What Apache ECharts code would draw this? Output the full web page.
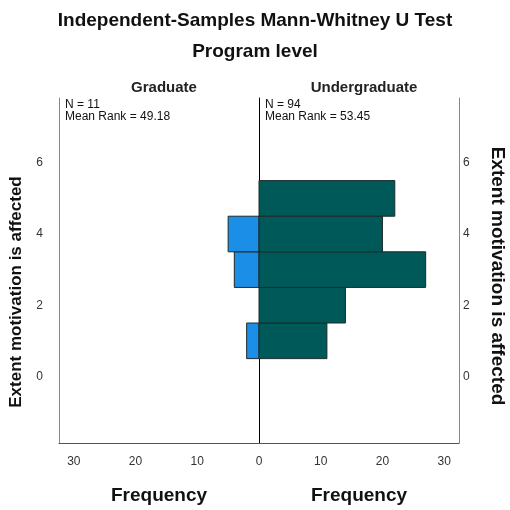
<!DOCTYPE html>
<html>
<head>
<meta charset="utf-8">
<script src="https://cdn.jsdelivr.net/npm/echarts@6/dist/echarts.min.js"></script>
<style>html,body{margin:0;padding:0;background:#fff;}#c{width:510px;height:510px;}</style>
</head>
<body>
<div id="c"></div>
<script>
const groups = ['Graduate', 'Undergraduate'];
const binCenters = [1, 2, 3, 4, 5];
const graduateFreq = [2, 0, 4, 5, 0];
const undergraduateFreq = [11, 14, 27, 20, 22];
const groupN = [11, 94];
const meanRanks = ['49.18', '53.45'];
const xTicks = [0, 10, 20, 30];
const yTicks = [0, 2, 4, 6];
const yName = 'Extent motivation is affected';

const FONT = 'Liberation Sans';
const xMax = 32.4, yMin = -1.87, yMax = 7.82;

function toData(freq) {
  return binCenters.map((c, i) => [freq[i], c]).filter(d => d[0] > 0);
}
function renderBar(color) {
  return function (params, api) {
    const v = api.value(0), y = api.value(1);
    const a = api.coord([0, y + 0.5]);
    const b = api.coord([v, y - 0.5]);
    return {
      type: 'rect',
      shape: { x: Math.min(a[0], b[0]), y: Math.min(a[1], b[1]), width: Math.abs(b[0] - a[0]), height: Math.abs(b[1] - a[1]) },
      style: { fill: color, stroke: '#1c2a2a', lineWidth: 1 }
    };
  };
}

const chart = echarts.init(document.getElementById('c'));
const axisLabelStyle = { fontFamily: FONT, fontSize: 12, color: '#333' };
const nameStyle = { fontFamily: FONT, fontSize: 19, fontWeight: 'bold', color: '#111' };
const noLine = { show: false };

chart.setOption({
  animation: false,
  title: [
    { text: 'Independent-Samples Mann-Whitney U Test', left: 'center', top: 6, textStyle: { fontFamily: FONT, fontSize: 19, fontWeight: 'bold', color: '#111' } },
    { text: 'Program level', left: 'center', top: 37, textStyle: { fontFamily: FONT, fontSize: 19, fontWeight: 'bold', color: '#111' } },
    { text: groups[0], left: 159, textAlign: 'center', top: 75, textStyle: { fontFamily: FONT, fontSize: 15, fontWeight: 'bold', color: '#222' } },
    { text: groups[1], left: 359, textAlign: 'center', top: 75, textStyle: { fontFamily: FONT, fontSize: 15, fontWeight: 'bold', color: '#222' } },
    { text: 'N = ' + groupN[0] + '\nMean Rank = ' + meanRanks[0], left: 60, top: 94, textStyle: { fontFamily: FONT, fontSize: 12, fontWeight: 'normal', color: '#111', lineHeight: 12 } },
    { text: 'N = ' + groupN[1] + '\nMean Rank = ' + meanRanks[1], left: 260, top: 94, textStyle: { fontFamily: FONT, fontSize: 12, fontWeight: 'normal', color: '#111', lineHeight: 12 } }
  ],
  graphic: [
    { type: 'text', x: 16, y: 292, rotation: Math.PI / 2, style: { text: yName, fontFamily: FONT, fontSize: 17, fontWeight: 'bold', fill: '#111', align: 'center', verticalAlign: 'middle' } },
    { type: 'text', x: 497, y: 276, rotation: -Math.PI / 2, style: { text: yName, fontFamily: FONT, fontSize: 19, fontWeight: 'bold', fill: '#111', align: 'center', verticalAlign: 'middle' } }
  ],
  grid: [
    { left: 59, width: 200, top: 98, bottom: 65 },
    { left: 259, width: 200, top: 98, bottom: 65 }
  ],
  xAxis: [
    { type: 'value', gridIndex: 0, inverse: true, min: 0, max: xMax, interval: 10,
      axisLine: { show: true, onZero: false, lineStyle: { color: '#555' } }, axisTick: { show: false }, splitLine: noLine,
      axisLabel: Object.assign({ margin: 13, customValues: xTicks.filter(v => v !== 0) }, axisLabelStyle),
      name: 'Frequency', nameLocation: 'middle', nameGap: 43, nameTextStyle: nameStyle },
    { type: 'value', gridIndex: 1, min: 0, max: xMax, interval: 10,
      axisLine: { show: true, onZero: false, lineStyle: { color: '#555' } }, axisTick: { show: false }, splitLine: noLine,
      axisLabel: Object.assign({ margin: 13, customValues: xTicks }, axisLabelStyle),
      name: 'Frequency', nameLocation: 'middle', nameGap: 43, nameTextStyle: nameStyle }
  ],
  yAxis: [
    { type: 'value', gridIndex: 0, position: 'left', min: yMin, max: yMax,
      axisLine: { show: true, onZero: false, lineStyle: { color: '#888' } }, axisTick: { show: false }, splitLine: noLine,
      axisLabel: Object.assign({ margin: 16, customValues: yTicks }, axisLabelStyle) },
    { type: 'value', gridIndex: 1, position: 'right', min: yMin, max: yMax,
      axisLine: { show: true, onZero: false, lineStyle: { color: '#888' } }, axisTick: { show: false }, splitLine: noLine,
      axisLabel: Object.assign({ margin: 4, customValues: yTicks, align: 'left' }, axisLabelStyle) },
    { type: 'value', gridIndex: 1, position: 'left', min: yMin, max: yMax,
      axisLine: { show: true, onZero: false, lineStyle: { color: '#000' } }, axisTick: { show: false }, splitLine: noLine,
      axisLabel: { show: false } }
  ],
  series: [
    { type: 'custom', xAxisIndex: 0, yAxisIndex: 0, data: toData(graduateFreq), renderItem: renderBar('#1b8fe8'), clip: false },
    { type: 'custom', xAxisIndex: 1, yAxisIndex: 1, data: toData(undergraduateFreq), renderItem: renderBar('#005959'), clip: false }
  ]
});
</script>
</body>
</html>
